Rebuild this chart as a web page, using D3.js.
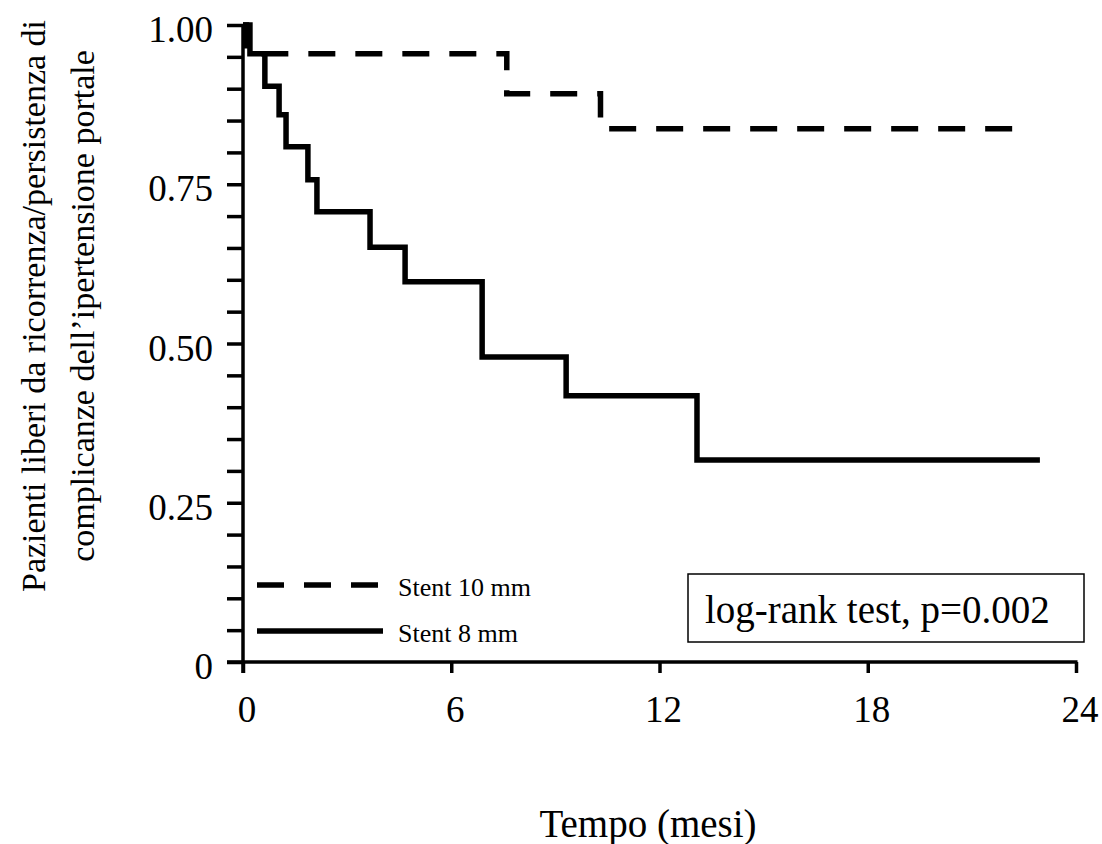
<!DOCTYPE html>
<html>
<head>
<meta charset="utf-8">
<script src="https://d3js.org/d3.v7.min.js"></script>
<style>
  body { margin: 0; background: #fff; }
  svg text { font-family: "Liberation Serif", "DejaVu Serif", serif !important; fill: #000; }
</style>
</head>
<body>
<svg width="1102" height="844" font-family="Liberation Serif, serif"></svg>
<script>
  // Kaplan-Meier curves (time in months, survival fraction)
  var stent10Times = [0, 0.1, 7.6, 10.3, 22.7];
  var stent10Surv  = [1.0, 0.955, 0.892, 0.837, 0.837];

  var stent8Times = [0, 0.2, 0.63, 1.04, 1.24, 1.87, 2.13, 3.66, 4.67, 6.89, 9.31, 13.08, 22.96];
  var stent8Surv  = [1.0, 0.955, 0.904, 0.859, 0.809, 0.757, 0.707, 0.651, 0.597, 0.479, 0.418, 0.317, 0.317];

  var xTickValues = [0, 6, 12, 18, 24];
  var yLabelValues = [0, 0.25, 0.5, 0.75, 1.0];
  var yLabelTexts = ["0", "0.25", "0.50", "0.75", "1.00"];
  var legendLabels = ["Stent 10 mm", "Stent 8 mm"];

  var serif = "'Liberation Serif', 'Times New Roman', serif";
  var svg = d3.select("svg");
  var x = d3.scaleLinear().domain([0, 24]).range([243, 1076]);
  var y = d3.scaleLinear().domain([0, 1]).range([662, 25]);

  // y axis: minor ticks every 0.05, labels every 0.25
  var yAxis = d3.axisLeft(y)
    .tickValues(d3.range(0, 21).map(function(i) { return i * 0.05; }))
    .tickSize(16)
    .tickFormat("");
  var gy = svg.append("g").attr("transform", "translate(243,0)").call(yAxis);
  gy.select(".domain").remove();
  gy.selectAll(".tick line").attr("stroke", "#000").attr("stroke-width", 3.5);

  svg.append("line")
    .attr("x1", 243).attr("x2", 243)
    .attr("y1", y(1)).attr("y2", 673)
    .attr("stroke", "#000").attr("stroke-width", 3.5);

  svg.append("g").selectAll("text")
    .data(yLabelValues)
    .enter().append("text")
    .attr("x", 213)
    .attr("y", function(d) { return y(d) + 17; })
    .attr("text-anchor", "end")
    .style("font-family", serif)
    .style("font-size", "37px")
    .text(function(d, i) { return yLabelTexts[i]; });

  // x axis
  var xAxis = d3.axisBottom(x).tickValues(xTickValues).tickSize(11).tickFormat("");
  var gx = svg.append("g").attr("transform", "translate(0,662)").call(xAxis);
  gx.select(".domain").remove();
  gx.selectAll(".tick line").attr("stroke", "#000").attr("stroke-width", 3.5);

  svg.append("line")
    .attr("x1", 227).attr("x2", x(24) + 1.5)
    .attr("y1", 662).attr("y2", 662)
    .attr("stroke", "#000").attr("stroke-width", 3.5);

  svg.append("g").selectAll("text")
    .data(xTickValues)
    .enter().append("text")
    .attr("x", function(d) { return x(d) + 4; })
    .attr("y", 722)
    .attr("text-anchor", "middle")
    .style("font-family", serif)
    .style("font-size", "37px")
    .text(function(d) { return d; });

  // axis titles
  svg.append("text")
    .attr("x", 648)
    .attr("y", 837)
    .attr("text-anchor", "middle")
    .style("font-family", serif)
    .style("font-size", "39px")
    .text("Tempo (mesi)");

  var yTitle = svg.append("text")
    .attr("transform", "translate(45,306)rotate(-90)")
    .attr("text-anchor", "middle")
    .style("font-family", serif)
    .style("font-size", "34px");
  yTitle.append("tspan").attr("x", 0).attr("y", 0).text("Pazienti liberi da ricorrenza/persistenza di");
  yTitle.append("tspan").attr("x", 0).attr("y", 49).text("complicanze dell\u2019ipertensione portale");

  // curves
  var line = d3.line()
    .x(function(d) { return x(d[0]); })
    .y(function(d) { return y(d[1]); })
    .curve(d3.curveStepAfter);

  var stent10 = d3.zip(stent10Times, stent10Surv);
  var stent8 = d3.zip(stent8Times, stent8Surv);

  svg.append("path")
    .datum(stent8)
    .attr("d", line)
    .attr("fill", "none")
    .attr("stroke", "#000")
    .attr("stroke-width", 5.5);

  svg.append("path")
    .datum(stent10)
    .attr("d", line)
    .attr("fill", "none")
    .attr("stroke", "#000")
    .attr("stroke-width", 5.5)
    .attr("stroke-dasharray", "27,20");

  // legend
  var legend = svg.append("g");
  legend.append("line")
    .attr("x1", 257).attr("x2", 380).attr("y1", 585).attr("y2", 585)
    .attr("stroke", "#000").attr("stroke-width", 5.5).attr("stroke-dasharray", "27,20");
  legend.append("line")
    .attr("x1", 257).attr("x2", 383).attr("y1", 631).attr("y2", 631)
    .attr("stroke", "#000").attr("stroke-width", 5.5);
  legend.selectAll("text")
    .data(legendLabels)
    .enter().append("text")
    .attr("x", 398)
    .attr("y", function(d, i) { return 596 + i * 46; })
    .style("font-family", serif)
    .style("font-size", "26px")
    .text(function(d) { return d; });

  // log-rank box
  svg.append("rect")
    .attr("x", 688).attr("y", 574)
    .attr("width", 396).attr("height", 68)
    .attr("fill", "none")
    .attr("stroke", "#000")
    .attr("stroke-width", 1.5);
  svg.append("text")
    .attr("x", 705)
    .attr("y", 623)
    .style("font-family", serif)
    .style("font-size", "39px")
    .text("log-rank test, p=0.002");
</script>
</body>
</html>
